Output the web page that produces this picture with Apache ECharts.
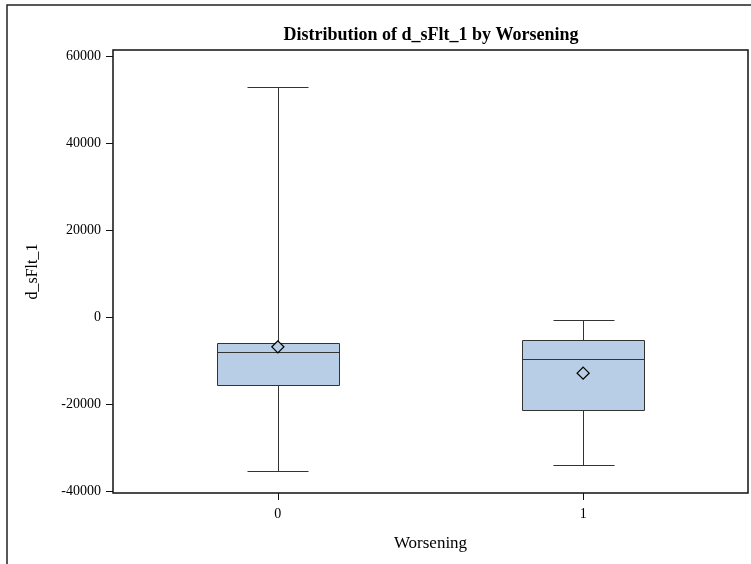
<!DOCTYPE html>
<html>
<head>
<meta charset="utf-8">
<script src="https://cdn.jsdelivr.net/npm/echarts@6/dist/echarts.min.js"></script>
<style>
  html, body { margin: 0; padding: 0; background: #fff; }
  #chart { width: 751px; height: 564px; }
</style>
</head>
<body>
<div id="chart"></div>
<script>
// Box statistics of d_sFlt_1 for each Worsening group
const categories = ['0', '1'];
const whiskerLow = [-35500, -34150];
const q1 = [-15600, -21400];
const median = [-8000, -9700];
const q3 = [-5900, -5200];
const whiskerHigh = [53000, -600];
const means = [-6850, -12900];
const yTicks = [-40000, -20000, 0, 20000, 40000, 60000];

const FONT = 'Liberation Serif';
const BOX_FILL = '#b8cee6';
const LINE = '#333333';
const BOX_WIDTH = 0.4;   // in axis units
const CAP_WIDTH = 0.2;

const boxData = categories.map((c, i) => [i, whiskerLow[i], q1[i], median[i], q3[i], whiskerHigh[i]]);
const meanData = categories.map((c, i) => [i, means[i]]);

const crisp = v => Math.round(v) + 0.5;

function renderBox(params, api) {
  const x = api.value(0);
  const pLow = api.coord([x, api.value(1)]);
  const pQ1 = api.coord([x, api.value(2)]);
  const pMed = api.coord([x, api.value(3)]);
  const pQ3 = api.coord([x, api.value(4)]);
  const pHigh = api.coord([x, api.value(5)]);
  const halfBox = api.size([BOX_WIDTH, 0])[0] / 2;
  const halfCap = api.size([CAP_WIDTH, 0])[0] / 2;
  const cx = crisp(pMed[0]);
  const left = crisp(pMed[0] - halfBox);
  const right = crisp(pMed[0] + halfBox);
  const yQ3 = crisp(pQ3[1]);
  const yQ1 = crisp(pQ1[1]);
  const lineStyle = { stroke: LINE, lineWidth: 1, fill: null };
  const seg = (x1, y1, x2, y2) => ({
    type: 'line',
    shape: { x1, y1, x2, y2 },
    style: lineStyle
  });
  return {
    type: 'group',
    children: [
      seg(cx, yQ3, cx, crisp(pHigh[1])),
      seg(cx, yQ1, cx, crisp(pLow[1])),
      seg(crisp(pHigh[0] - halfCap), crisp(pHigh[1]), crisp(pHigh[0] + halfCap), crisp(pHigh[1])),
      seg(crisp(pLow[0] - halfCap), crisp(pLow[1]), crisp(pLow[0] + halfCap), crisp(pLow[1])),
      {
        type: 'rect',
        shape: { x: left, y: yQ3, width: right - left, height: yQ1 - yQ3 },
        style: { fill: BOX_FILL, stroke: LINE, lineWidth: 1 }
      },
      seg(left, crisp(pMed[1]), right, crisp(pMed[1]))
    ]
  };
}

const chart = echarts.init(document.getElementById('chart'), null, { renderer: 'canvas' });

chart.setOption({
  backgroundColor: '#ffffff',
  animation: false,
  textStyle: { fontFamily: FONT, color: '#000' },
  title: {
    text: 'Distribution of d_sFlt_1 by Worsening',
    left: 426,
    top: 21,
    textAlign: 'center',
    textStyle: { fontFamily: FONT, fontSize: 18, fontWeight: 'bold', color: '#000' }
  },
  graphic: [{
    type: 'rect',
    shape: { x: 7, y: 5, width: 800, height: 700 },
    style: { fill: null, stroke: '#222', lineWidth: 1.5 },
    silent: true
  }],
  grid: {
    left: 113,
    right: 3,
    top: 50,
    bottom: 71,
    show: true,
    borderColor: '#111',
    borderWidth: 1.5,
    backgroundColor: 'transparent'
  },
  xAxis: {
    type: 'value',
    min: -0.54,
    max: 1.54,
    name: 'Worsening',
    nameLocation: 'middle',
    nameGap: 42,
    nameTextStyle: { fontFamily: FONT, fontSize: 17, color: '#000' },
    axisLine: { show: false, onZero: false },
    axisTick: {
      show: true,
      inside: false,
      length: 7,
      customValues: categories.map((c, i) => i),
      lineStyle: { color: '#111', width: 1 }
    },
    axisLabel: {
      show: true,
      margin: 14,
      customValues: categories.map((c, i) => i),
      formatter: v => categories[Math.round(v)],
      fontFamily: FONT,
      fontSize: 14,
      color: '#000'
    },
    splitLine: { show: false }
  },
  yAxis: {
    type: 'value',
    min: -40500,
    max: 61500,
    name: 'd_sFlt_1',
    nameLocation: 'middle',
    nameGap: 72,
    nameTextStyle: { fontFamily: FONT, fontSize: 16, color: '#000' },
    axisLine: { show: false, onZero: false },
    axisTick: {
      show: true,
      inside: false,
      length: 7,
      customValues: yTicks,
      lineStyle: { color: '#111', width: 1 }
    },
    axisLabel: {
      show: true,
      margin: 12,
      customValues: yTicks,
      formatter: v => String(v),
      fontFamily: FONT,
      fontSize: 14,
      color: '#000'
    },
    splitLine: { show: false }
  },
  series: [
    {
      type: 'custom',
      name: 'box',
      renderItem: renderBox,
      encode: { x: 0, y: [1, 2, 3, 4, 5] },
      data: boxData,
      z: 2
    },
    {
      type: 'scatter',
      name: 'mean',
      symbol: 'diamond',
      symbolSize: 12,
      itemStyle: { color: BOX_FILL, borderColor: '#000', borderWidth: 1.3, opacity: 1 },
      data: meanData,
      z: 3
    }
  ]
});
</script>
</body>
</html>
